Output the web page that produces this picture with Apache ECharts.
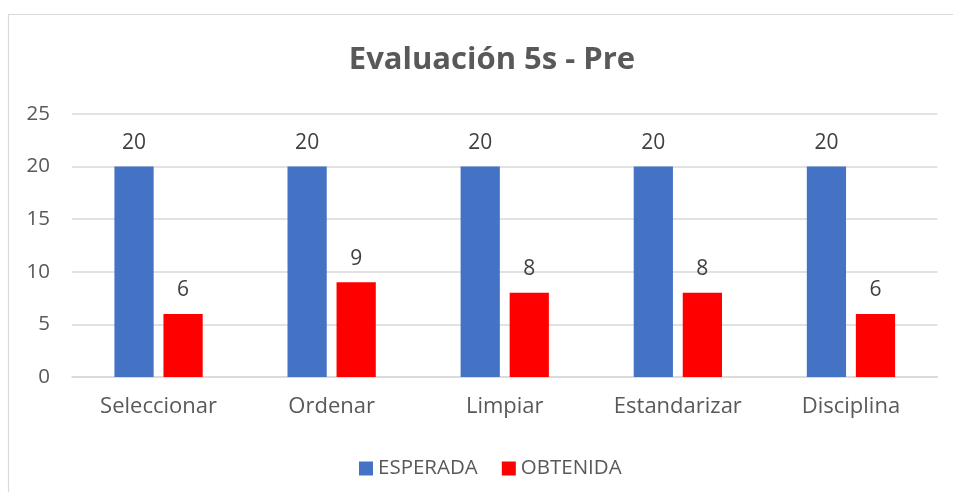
<!DOCTYPE html>
<html>
<head>
<meta charset="utf-8">
<script src="https://cdn.jsdelivr.net/npm/echarts@6/dist/echarts.min.js"></script>
<style>
html,body{margin:0;padding:0;background:#fff;}
#chart{width:953px;height:492px;}
</style>
</head>
<body>
<div id="chart"></div>
<script>
const categories = ['Seleccionar', 'Ordenar', 'Limpiar', 'Estandarizar', 'Disciplina'];
const esperada = [20, 20, 20, 20, 20];
const obtenida = [6, 9, 8, 8, 6];
const yTicks = [0, 5, 10, 15, 20, 25];

const FONT = '"Open Sans", "Noto Sans", sans-serif';
const chart = echarts.init(document.getElementById('chart'), null, {renderer: 'canvas'});
chart.setOption({
  animation: false,
  backgroundColor: '#fff',
  title: {
    text: 'Evaluación 5s - Pre',
    left: 487,
    textAlign: 'center',
    top: 40,
    textStyle: {fontFamily: FONT, fontSize: 31, fontWeight: 'bold', color: '#595959'}
  },
  graphic: [{
    type: 'rect',
    shape: {x: 8.5, y: 14.5, width: 2000, height: 2000},
    style: {fill: 'none', stroke: '#D9D9D9', lineWidth: 1.2},
    silent: true, z: -10
  }],
  legend: {
    data: ['ESPERADA', 'OBTENIDA'],
    left: 354,
    top: 453,
    itemWidth: 14,
    itemHeight: 14,
    itemGap: 24,
    icon: 'rect',
    textStyle: {fontFamily: FONT, fontSize: 20.5, color: '#595959'}
  },
  grid: {left: 72, right: 15.5, top: 114, bottom: 115, containLabel: false},
  xAxis: {
    type: 'category',
    data: categories,
    axisLine: {lineStyle: {color: '#D9D9D9', width: 1.5}},
    axisTick: {show: false},
    axisLabel: {fontFamily: FONT, fontSize: 22, color: '#595959', margin: 19}
  },
  yAxis: {
    type: 'value',
    min: yTicks[0],
    max: yTicks[yTicks.length - 1],
    interval: 5,
    axisLine: {show: false},
    axisTick: {show: false},
    splitLine: {lineStyle: {color: '#D9D9D9', width: 1.5}},
    axisLabel: {fontFamily: FONT, fontSize: 20.5, color: '#595959', margin: 22}
  },
  series: [
    {
      name: 'ESPERADA', type: 'bar', data: esperada,
      itemStyle: {color: '#4472C4'},
      barGap: '25%', barCategoryGap: '49%',
      label: {show: true, position: 'top', distance: 13, fontFamily: FONT, fontSize: 21, color: '#404040'}
    },
    {
      name: 'OBTENIDA', type: 'bar', data: obtenida,
      itemStyle: {color: '#FF0000'},
      barGap: '25%', barCategoryGap: '49%',
      label: {show: true, position: 'top', distance: 13, fontFamily: FONT, fontSize: 21, color: '#404040'}
    }
  ]
});
</script>
</body>
</html>
